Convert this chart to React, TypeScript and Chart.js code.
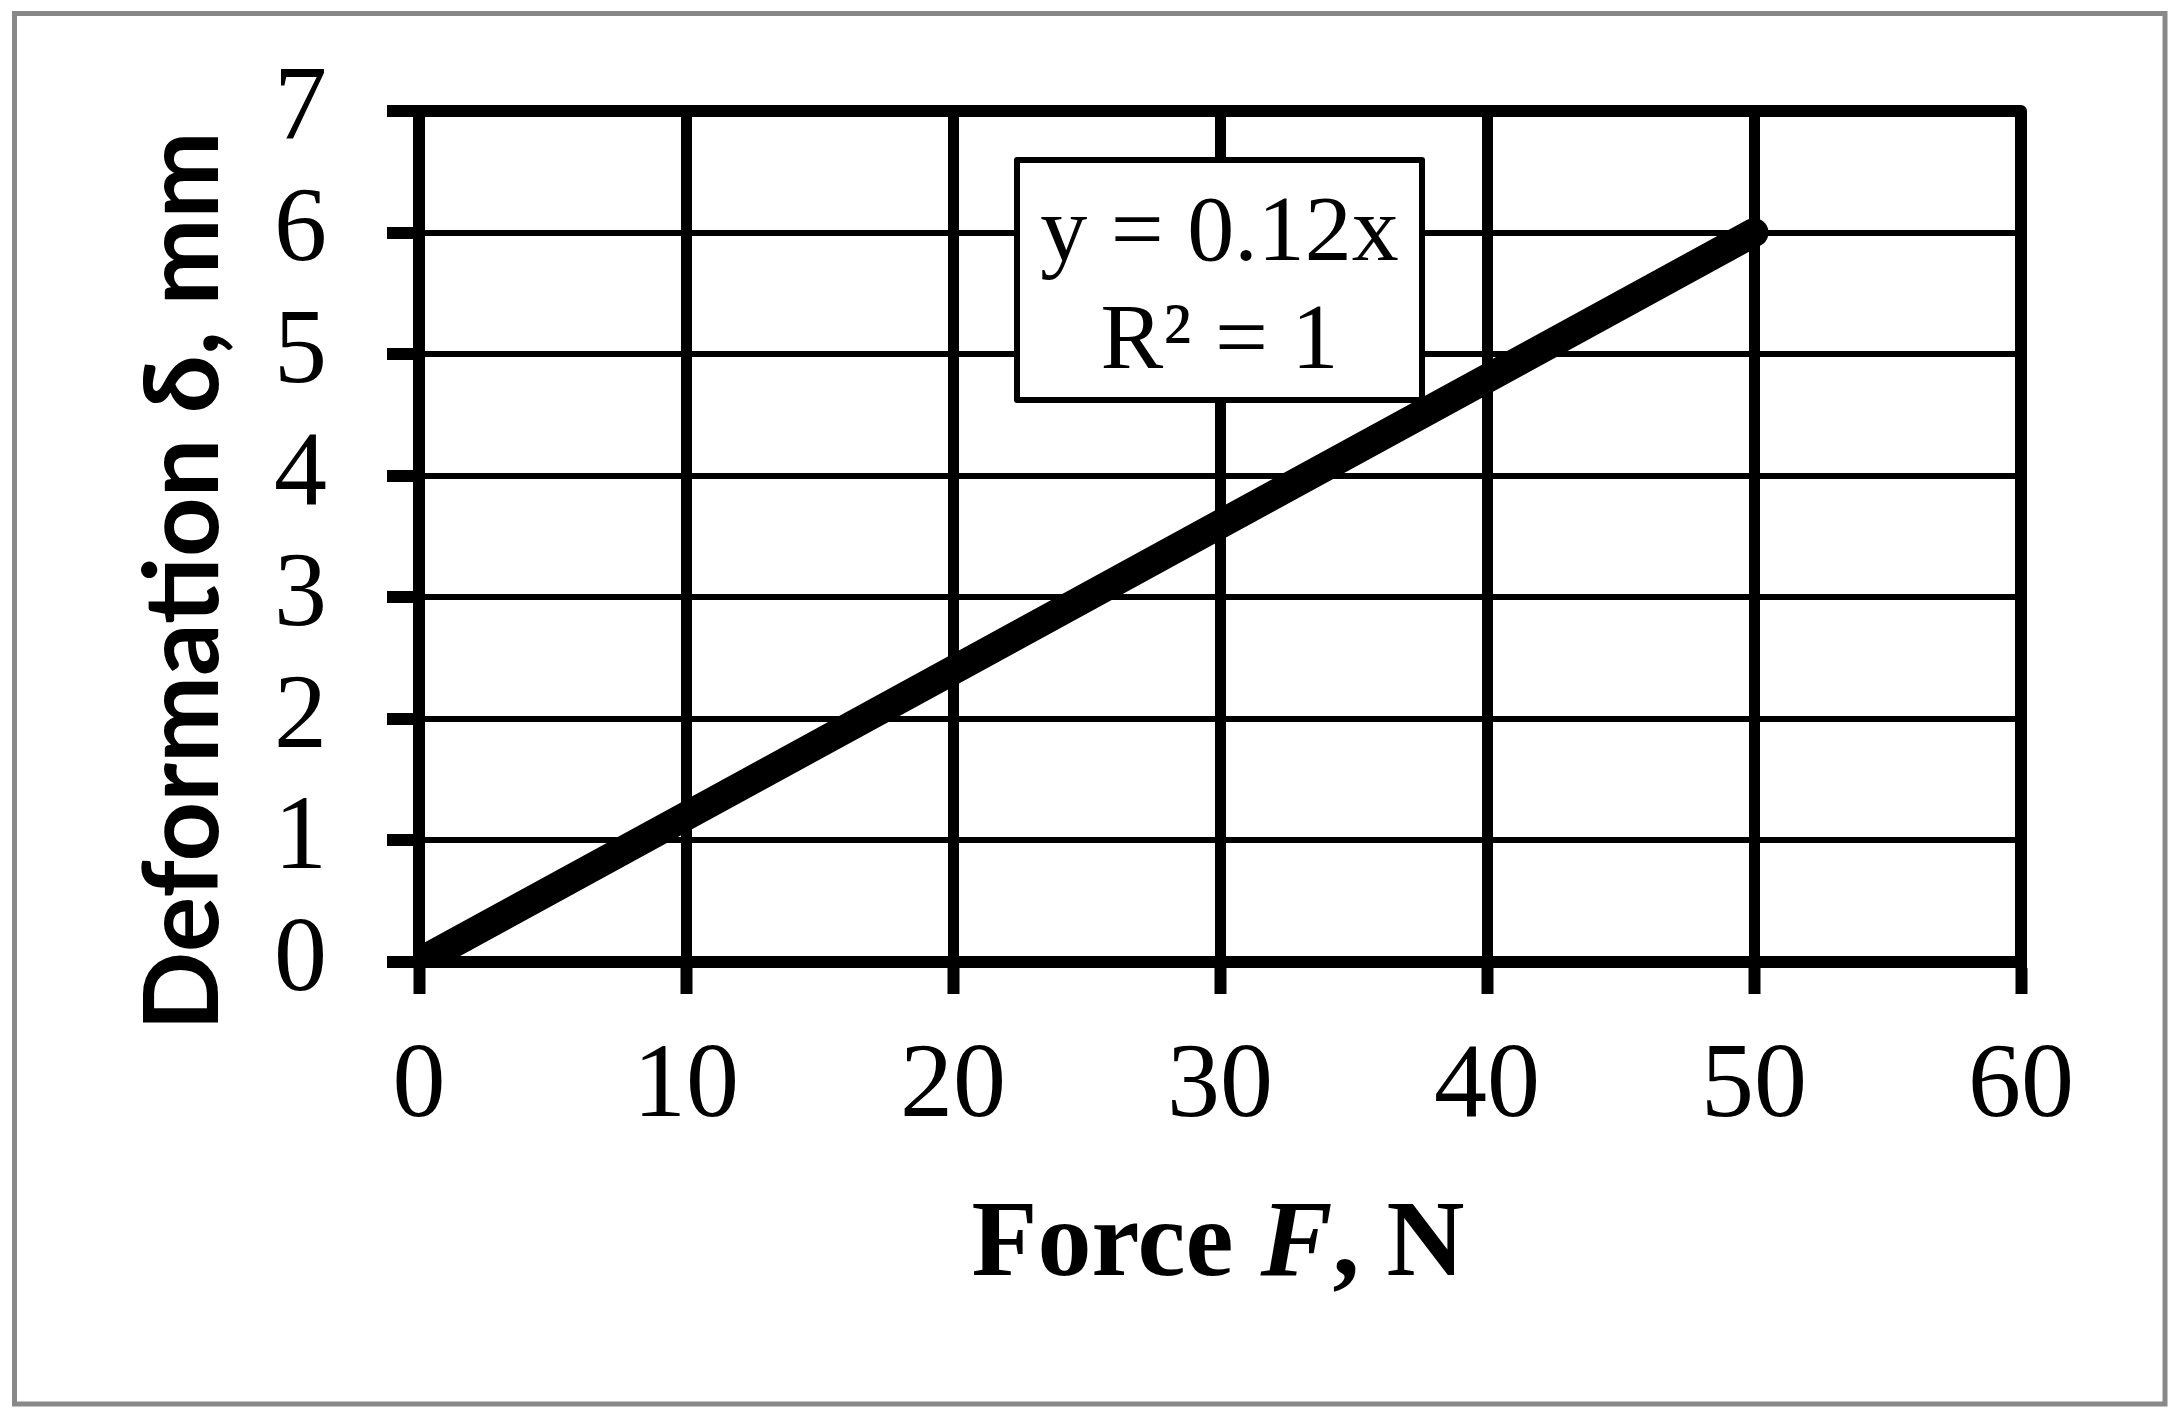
import React, { useEffect, useRef } from "react";
import { Chart, registerables } from "chart.js";

Chart.register(...registerables);

// ---- data ----
const forceN = [0, 10, 20, 30, 40, 50];
const deformationMm = [0, 1.2, 2.4, 3.6, 4.8, 6.0];
const xTickValues = [0, 10, 20, 30, 40, 50, 60];
const yTickValues = [0, 1, 2, 3, 4, 5, 6, 7];
const xTitleParts = [
  { text: "Force ", italic: false },
  { text: "F", italic: true },
  { text: ", N", italic: false },
];
const yTitle = "Deformation δ, mm";
const equationLines = ["y = 0.12x", "R² = 1"];

// ---- style ----
const W = 2175;
const H = 1415;
const SERIF = "'Liberation Serif', 'Times New Roman', serif";
const SANS = "Lato, 'Open Sans', sans-serif";

const decorPlugin = {
  id: "decor",
  beforeDraw(chart: any) {
    const ctx = chart.ctx;
    ctx.save();
    ctx.fillStyle = "#ffffff";
    ctx.fillRect(0, 0, W, H);
    ctx.strokeStyle = "#888888";
    ctx.lineWidth = 5;
    ctx.strokeRect(14.5, 13.5, 2150.5, 1390.5);
    ctx.restore();
  },
  beforeDatasetsDraw(chart: any) {
    const { ctx, chartArea: a } = chart;
    ctx.save();
    // plot frame
    ctx.strokeStyle = "#000";
    ctx.lineWidth = 12;
    ctx.lineJoin = "round";
    ctx.strokeRect(a.left, a.top, a.right - a.left, a.bottom - a.top);
    // trendline equation box
    const bx = 1017, by = 160, bw = 405, bh = 240;
    ctx.fillStyle = "#fff";
    ctx.fillRect(bx, by, bw, bh);
    ctx.lineWidth = 6;
    ctx.strokeRect(bx, by, bw, bh);
    ctx.fillStyle = "#000";
    ctx.font = `94px ${SERIF}`;
    ctx.textAlign = "center";
    ctx.textBaseline = "alphabetic";
    ctx.fillText(equationLines[0], bx + bw / 2, 260);
    ctx.fillText(equationLines[1], bx + bw / 2, 368);
    ctx.restore();
  },
  afterDraw(chart: any) {
    const ctx = chart.ctx;
    ctx.save();
    ctx.fillStyle = "#000";
    // x title with italic F
    const fonts = xTitleParts.map((p) =>
      p.italic ? `italic bold 108px ${SERIF}` : `bold 108px ${SERIF}`
    );
    const widths = xTitleParts.map((p, i) => {
      ctx.font = fonts[i];
      return ctx.measureText(p.text).width;
    });
    const total = widths.reduce((s, v) => s + v, 0);
    let x = 1218 - total / 2;
    ctx.textAlign = "left";
    ctx.textBaseline = "alphabetic";
    xTitleParts.forEach((p, i) => {
      ctx.font = fonts[i];
      ctx.fillText(p.text, x, 1275);
      x += widths[i];
    });
    // y title rotated
    ctx.translate(218, 581);
    ctx.rotate(-Math.PI / 2);
    ctx.font = `bold 104px ${SANS}`;
    ctx.textAlign = "center";
    ctx.fillText(yTitle, 0, 0);
    ctx.restore();
  },
};

export default function App() {
  const ref = useRef<HTMLCanvasElement | null>(null);

  useEffect(() => {
    let chart: Chart | null = null;
    let cancelled = false;
    const make = () => {
      if (cancelled || !ref.current) return;
      chart = new Chart(ref.current, {
        type: "line",
        data: {
          labels: forceN,
          datasets: [
            {
              data: forceN.map((f, i) => ({ x: f, y: deformationMm[i] })),
              borderColor: "#000",
              backgroundColor: "#000",
              borderWidth: 29,
              borderCapStyle: "round",
              borderJoinStyle: "round",
              pointRadius: 0,
              tension: 0,
              fill: false,
              clip: 0,
            } as any,
          ],
        },
        options: {
          animation: false,
          responsive: false,
          devicePixelRatio: 1,
          layout: { padding: { top: 111, right: 154, left: 0, bottom: 0 } },
          plugins: {
            legend: { display: false },
            tooltip: { enabled: false },
            title: { display: false },
          },
          scales: {
            x: {
              type: "linear",
              min: 0,
              max: 60,
              afterBuildTicks: (s: any) => {
                s.ticks = xTickValues.map((v) => ({ value: v }));
              },
              afterFit: (s: any) => {
                s.height = 453;
              },
              grid: {
                color: "#000",
                lineWidth: 11,
                tickLength: 32,
                tickWidth: 12,
                tickColor: "#000",
              },
              border: { display: true, color: "#000", width: 12 },
              ticks: {
                color: "#000",
                font: { family: SERIF, size: 106 },
                padding: 31,
                maxRotation: 0,
                autoSkip: false,
              },
            },
            y: {
              type: "linear",
              min: 0,
              max: 7,
              afterBuildTicks: (s: any) => {
                s.ticks = yTickValues.map((v) => ({ value: v }));
              },
              afterFit: (s: any) => {
                s.width = 419;
                s.paddingTop = 0;
                s.paddingBottom = 0;
              },
              grid: {
                color: "#000",
                lineWidth: 6,
                tickLength: 32,
                tickWidth: 12,
                tickColor: "#000",
              },
              border: { display: true, color: "#000", width: 12 },
              ticks: {
                color: "#000",
                font: { family: SERIF, size: 106 },
                padding: 60,
                autoSkip: false,
              },
            },
          },
        } as any,
        plugins: [decorPlugin],
      });
    };
    const fontsReady = (document as any).fonts
      ? Promise.all([
          (document as any).fonts.load(`106px 'Liberation Serif'`),
          (document as any).fonts.load(`bold 108px 'Liberation Serif'`),
          (document as any).fonts.load(`italic bold 108px 'Liberation Serif'`),
          (document as any).fonts.load(`bold 104px Lato`),
        ]).catch(() => null)
      : Promise.resolve(null);
    fontsReady.then(make);
    return () => {
      cancelled = true;
      if (chart) chart.destroy();
    };
  }, []);

  return (
    <div style={{ position: "absolute", left: 0, top: 0, width: W, height: H, background: "#fff" }}>
      <canvas ref={ref} width={W} height={H} style={{ display: "block" }} />
    </div>
  );
}
